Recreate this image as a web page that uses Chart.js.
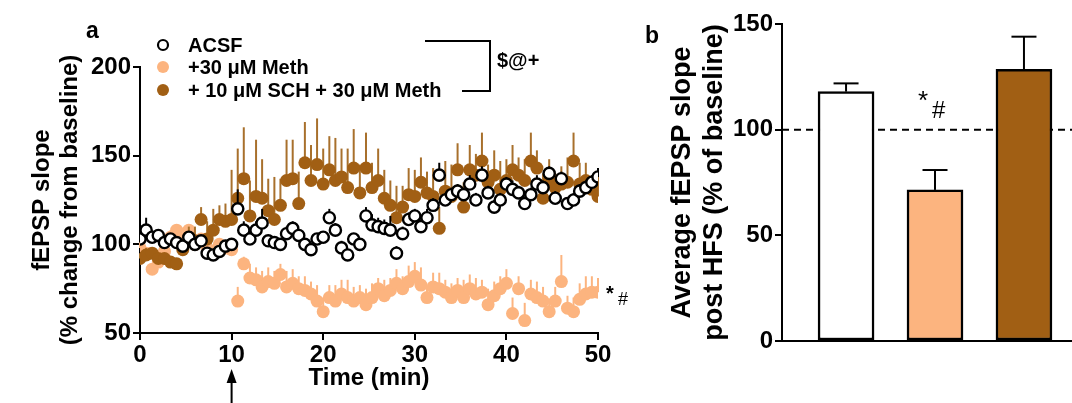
<!DOCTYPE html>
<html>
<head>
<meta charset="utf-8">
<script src="https://cdn.jsdelivr.net/npm/chart.js@4.4.0/dist/chart.umd.min.js"></script>
<style>
  body { margin: 0; background: #fff; }
  #painelA { position: absolute; left: 0; top: 0; width: 640px; height: 403px; }
  #painelB { position: absolute; left: 640px; top: 0; width: 432px; height: 403px; }
</style>
</head>
<body>
<div id="painelA"><canvas id="graficoA"></canvas></div>
<div id="painelB"><canvas id="graficoB"></canvas></div>
<script>
// tempos de registo (min), um ponto a cada ~40 s
const tempos = [0, 0.67, 1.33, 2, 2.67, 3.33, 4, 4.67, 5.33, 6, 6.67, 7.33, 8, 8.67, 9.33, 10,
  10.67, 11.33, 12, 12.67, 13.33, 14, 14.67, 15.33, 16, 16.67, 17.33, 18, 18.67, 19.33, 20,
  20.67, 21.33, 22, 22.67, 23.33, 24, 24.67, 25.33, 26, 26.67, 27.33, 28, 28.67, 29.33, 30,
  30.67, 31.33, 32, 32.67, 33.33, 34, 34.67, 35.33, 36, 36.67, 37.33, 38, 38.67, 39.33, 40,
  40.67, 41.33, 42, 42.67, 43.33, 44, 44.67, 45.33, 46, 46.67, 47.33, 48, 48.67, 49.33, 50];

// ACSF (circulos abertos)
const acsf = [103, 108, 104, 105, 101, 103, 101, 99, 104, 100, 102, 95, 94, 96, 99, 100,
  120, 108, 103, 108, 112, 102, 101, 100, 106, 109, 105, 100, 97, 103, 104,
  115, 108, 98, 94, 103, 100, 116, 111, 110, 109, 108, 95, 106, 114, 116,
  110, 115, 122, 139, 125, 128, 130, 128, 134, 125, 139, 129, 121, 125, 134,
  131, 129, 123, 128, 134, 132, 140, 126, 137, 123, 125, 130, 132, 135, 138];
const acsfErro = [3, 7, 3, 3, 3, 3, 2, 3, 3, 2, 3, 2, 3, 2, 3, 3,
  11, 5, 4, 5, 8, 3, 3, 3, 4, 4, 3, 3, 3, 3, 3,
  5, 4, 4, 3, 3, 3, 5, 6, 5, 5, 8, 4, 4, 4, 4,
  4, 5, 4, 7, 4, 4, 4, 4, 5, 4, 5, 4, 4, 4, 4,
  5, 4, 4, 4, 5, 4, 4, 4, 4, 3, 4, 4, 4, 4, 5];

// +30 uM Meth
const meth = [98, 95, 86, 90, 96, 104, 108, 103, 108, 100, 103, 98, 96, 100, 98, 97,
  68, 89, 81, 80, 76, 79, 78, 83, 76, 78, 75, 74, 72, 68, 62,
  70, 68, 72, 70, 68, 70, 66, 70, 75, 71, 74, 78, 75, 79, 82,
  77, 70, 76, 75, 73, 70, 74, 70, 75, 72, 73, 66, 71, 75, 78,
  61, 75, 57, 72, 70, 68, 62, 68, 79, 64, 62, 69, 72, 73, 73];
const methErro = [3, 2, 3, 3, 3, 4, 3, 3, 3, 3, 3, 3, 3, 3, 3, 3,
  8, 4, 8, 7, 9, 8, 7, 6, 9, 8, 7, 8, 7, 9, 8,
  7, 9, 8, 10, 8, 7, 9, 8, 6, 9, 7, 8, 7, 9, 8,
  10, 6, 8, 9, 7, 8, 7, 10, 8, 9, 7, 9, 8, 7, 8,
  9, 7, 10, 8, 9, 8, 7, 8, 15, 7, 8, 9, 10, 9, 8];

// + 10 uM SCH + 30 uM Meth
const sch = [92, 94, 95, 92, 92, 90, 89, 97, 104, 102, 114, 103, 108, 114, 113, 114,
  126, 137, 116, 127, 126, 119, 114, 122, 136, 137, 123, 146, 136, 145, 134,
  142, 136, 138, 132, 143, 129, 143, 132, 136, 126, 122, 115, 121, 128, 127,
  135, 129, 127, 109, 130, 127, 142, 121, 142, 139, 147, 135, 139, 131, 136,
  142, 139, 136, 147, 143, 126, 136, 132, 134, 135, 147, 134, 136, 131, 127];
const schErro = [3, 4, 3, 3, 2, 3, 3, 5, 6, 8, 7, 10, 12, 8, 10, 28,
  28, 29, 20, 32, 22, 18, 24, 15, 23, 22, 18, 23, 20, 26, 20,
  19, 24, 16, 22, 22, 16, 20, 14, 18, 16, 14, 18, 12, 15, 15,
  14, 12, 16, 12, 17, 18, 15, 14, 14, 12, 16, 10, 14, 16, 12,
  14, 10, 12, 16, 10, 14, 12, 8, 10, 14, 16, 12, 10, 8, 12];

const rotulosA = ['ACSF', '+30 \u03bcM Meth', '+ 10 \u03bcM SCH + 30 \u03bcM Meth'];
const ticksX = [0, 10, 20, 30, 40, 50];
const ticksY = [50, 100, 150, 200];

// painel b: media pos-HFS
const grupos = ['ACSF', '+30 \u03bcM Meth', '+ 10 \u03bcM SCH + 30 \u03bcM Meth'];
const medias = [118, 71.5, 128.6];
const mediasErro = [3.9, 9.4, 15.4];
const ticksYB = [0, 50, 100, 150];

const laranja = '#FCB47F';
const marrom = '#A15F14';
const fonte = '"Liberation Sans", Arial, sans-serif';
Chart.defaults.font.family = fonte;
Chart.defaults.color = '#000';

function pontos(vals) {
  return vals.map((v, i) => ({ x: tempos[i], y: v }));
}

// barras de erro (so para cima), desenhadas antes de cada dataset
const errosPlugin = {
  id: 'erros',
  beforeDatasetDraw(chart, args) {
    const ds = chart.data.datasets[args.index];
    if (!ds.erros) return;
    const ctx = chart.ctx;
    const y = chart.scales.y;
    ctx.save();
    ctx.strokeStyle = ds.corErro;
    ctx.lineWidth = ds.larguraErro || 2;
    args.meta.data.forEach((el, i) => {
      const v = ds.data[i].y;
      const topo = y.getPixelForValue(v + ds.erros[i]);
      ctx.beginPath();
      ctx.moveTo(el.x, el.y);
      ctx.lineTo(el.x, topo);
      ctx.stroke();
      if (ds.tampa) {
        ctx.beginPath();
        ctx.moveTo(el.x - ds.tampa / 2, topo);
        ctx.lineTo(el.x + ds.tampa / 2, topo);
        ctx.stroke();
      }
    });
    ctx.restore();
  }
};

// legenda, colchete, setas e textos do painel a
const anotacoesA = {
  id: 'anotacoesA',
  afterDraw(chart) {
    const ctx = chart.ctx;
    const xs = chart.scales.x, ys = chart.scales.y;
    ctx.save();
    ctx.fillStyle = '#000';
    ctx.font = 'bold 23px ' + fonte;
    ctx.textBaseline = 'middle';
    ctx.fillText('a', 86, 32);

    // legenda
    const linhas = [45, 67, 90];
    chart.data.datasets.forEach((ds, i) => {
      ctx.beginPath();
      ctx.arc(163, linhas[i], ds.pointBorderWidth ? 5 : 6, 0, Math.PI * 2);
      ctx.fillStyle = ds.pointBackgroundColor;
      ctx.fill();
      if (ds.pointBorderWidth) {
        ctx.lineWidth = 2.2;
        ctx.strokeStyle = '#000';
        ctx.stroke();
      }
      ctx.fillStyle = '#000';
      ctx.font = 'bold 20px ' + fonte;
      ctx.fillText(ds.label, 188, linhas[i] + 1);
    });

    // colchete de significancia
    ctx.strokeStyle = '#000';
    ctx.lineWidth = 2;
    ctx.beginPath();
    ctx.moveTo(425, 41);
    ctx.lineTo(490, 41);
    ctx.lineTo(490, 91);
    ctx.lineTo(462, 91);
    ctx.stroke();
    ctx.font = 'bold 20px ' + fonte;
    ctx.fillText('$@+', 497, 61);

    // *# ao lado da serie Meth
    const yEst = ys.getPixelForValue(73);
    ctx.font = 'bold 20px ' + fonte;
    ctx.fillText('*', chart.chartArea.right + 8, yEst + 2);
    ctx.font = '18px ' + fonte;
    ctx.fillText('#', chart.chartArea.right + 20, yEst + 8);

    // seta do HFS aos 10 min
    const xh = xs.getPixelForValue(10);
    ctx.beginPath();
    ctx.moveTo(xh, 403);
    ctx.lineTo(xh, 380);
    ctx.stroke();
    ctx.beginPath();
    ctx.moveTo(xh, 369);
    ctx.lineTo(xh - 5, 383);
    ctx.lineTo(xh + 5, 383);
    ctx.closePath();
    ctx.fill();
    ctx.restore();
  }
};

const eixoPreto = { display: true, color: '#000', width: 2 };
const marcas = { drawOnChartArea: false, drawTicks: true, tickLength: 7, color: '#000', lineWidth: 2 };

new Chart(document.getElementById('graficoA'), {
  type: 'scatter',
  data: {
    datasets: [
      {
        label: rotulosA[0], data: pontos(acsf), erros: acsfErro, corErro: '#000', larguraErro: 2,
        pointRadius: 5.6, pointBorderWidth: 2.4, pointBackgroundColor: '#fff', pointBorderColor: '#000', order: 0
      },
      {
        label: rotulosA[1], data: pontos(meth), erros: methErro, corErro: laranja, larguraErro: 2,
        pointRadius: 6.5, pointBorderWidth: 0, pointBackgroundColor: laranja, pointBorderColor: laranja, order: 2
      },
      {
        label: rotulosA[2], data: pontos(sch), erros: schErro, corErro: '#A8702C', larguraErro: 2,
        pointRadius: 6.5, pointBorderWidth: 0, pointBackgroundColor: marrom, pointBorderColor: marrom, order: 1
      }
    ]
  },
  options: {
    responsive: true,
    maintainAspectRatio: false,
    animation: false,
    layout: { padding: { left: 0, right: 42, top: 67, bottom: 0 } },
    plugins: { legend: { display: false }, tooltip: { enabled: false } },
    scales: {
      x: {
        type: 'linear', min: 0, max: 50,
        afterBuildTicks: s => { s.ticks = ticksX.map(v => ({ value: v })); },
        afterFit: s => { s.height = 70; },
        ticks: { font: { size: 24, weight: 'bold' }, padding: 1, maxRotation: 0 },
        grid: marcas, border: eixoPreto,
        title: { display: true, text: 'Time (min)', font: { size: 24, weight: 'bold' }, padding: { bottom: 10, top: 0 } }
      },
      y: {
        min: 50, max: 200,
        afterBuildTicks: s => { s.ticks = ticksY.map(v => ({ value: v })); },
        afterFit: s => { s.width = 140; },
        ticks: { font: { size: 24, weight: 'bold' }, padding: 2 },
        grid: marcas, border: eixoPreto,
        title: {
          display: true, text: ['fEPSP slope', '(% change from baseline)'],
          font: { size: 24, weight: 'bold', lineHeight: 1.17 }, padding: { top: 28, bottom: 0 }
        }
      }
    }
  },
  plugins: [errosPlugin, anotacoesA]
});

// painel b
const anotacoesB = {
  id: 'anotacoesB',
  beforeDatasetsDraw(chart) {
    const ctx = chart.ctx;
    const ys = chart.scales.y;
    const y100 = ys.getPixelForValue(100);
    ctx.save();
    ctx.strokeStyle = '#000';
    ctx.lineWidth = 2;
    ctx.setLineDash([7, 5]);
    ctx.beginPath();
    ctx.moveTo(chart.chartArea.left, y100);
    ctx.lineTo(chart.chartArea.right, y100);
    ctx.stroke();
    ctx.restore();
  },
  afterDraw(chart) {
    const ctx = chart.ctx;
    const xs = chart.scales.x, ys = chart.scales.y;
    ctx.save();
    ctx.fillStyle = '#000';
    ctx.textBaseline = 'middle';
    ctx.font = 'bold 23px ' + fonte;
    ctx.fillText('b', 5, 37);
    // *# acima da barra Meth
    const xm = xs.getPixelForValue(2);
    ctx.font = '26px ' + fonte;
    ctx.fillText('*', xm - 17, ys.getPixelForValue(113));
    ctx.font = '24px ' + fonte;
    ctx.fillText('#', xm - 3, ys.getPixelForValue(108.5));
    ctx.restore();
  }
};

new Chart(document.getElementById('graficoB'), {
  type: 'bar',
  data: {
    datasets: [{
      label: 'post HFS',
      data: medias.map((v, i) => ({ x: i + 1, y: v })),
      erros: mediasErro, corErro: '#000', larguraErro: 2, tampa: 25,
      backgroundColor: ['#fff', laranja, marrom],
      borderColor: '#000', borderWidth: 2.5, borderSkipped: false,
      barThickness: 56
    }],
    labels: grupos
  },
  options: {
    responsive: true,
    maintainAspectRatio: false,
    animation: false,
    layout: { padding: { left: 0, right: 0, top: 24, bottom: 0 } },
    plugins: { legend: { display: false }, tooltip: { enabled: false } },
    scales: {
      x: {
        type: 'linear', min: 0.28, max: 3.54, offset: false,
        afterFit: s => { s.height = 62; },
        ticks: { display: false },
        grid: { display: false }, border: eixoPreto
      },
      y: {
        min: 0, max: 150,
        afterBuildTicks: s => { s.ticks = ticksYB.map(v => ({ value: v })); },
        afterFit: s => { s.width = 142; },
        ticks: { font: { size: 24, weight: 'bold' }, padding: 2 },
        grid: marcas, border: eixoPreto,
        title: {
          display: true, text: ['Average fEPSP slope', 'post HFS (% of baseline)'],
          font: { size: 27, weight: 'bold', lineHeight: 1.18 }, padding: { top: 27, bottom: 0 }
        }
      }
    }
  },
  plugins: [errosPlugin, anotacoesB]
});
</script>
</body>
</html>
